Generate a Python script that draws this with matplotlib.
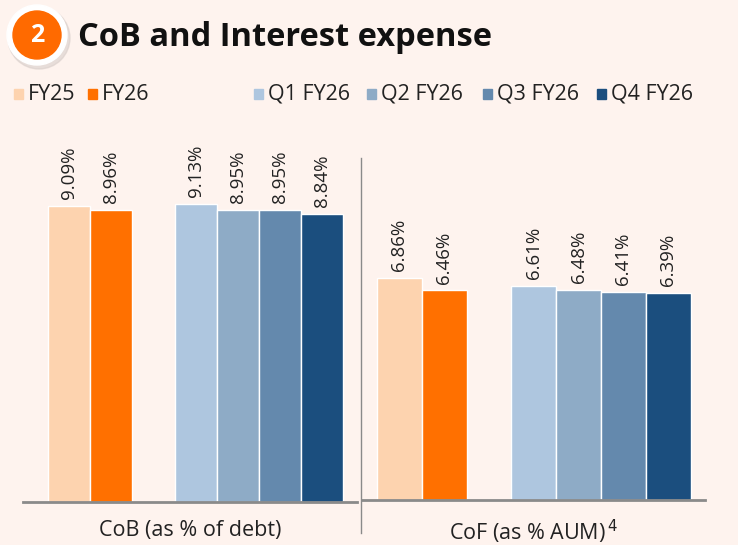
import matplotlib
matplotlib.use("Agg")
import matplotlib.pyplot as plt
from matplotlib.patches import Circle, Rectangle

plt.rcParams['font.family'] = ['Open Sans', 'DejaVu Sans']

# ---- data ----
series = ["FY25", "FY26", "Q1 FY26", "Q2 FY26", "Q3 FY26", "Q4 FY26"]
cob_values = [9.09, 8.96, 9.13, 8.95, 8.95, 8.84]
cof_values = [6.86, 6.46, 6.61, 6.48, 6.41, 6.39]
group_labels = ["CoB (as % of debt)", "CoF (as % AUM)$^{\\,4}$"]
title = "CoB and Interest expense"

colors = ["#FDD3AF", "#FF7000", "#AEC6DF", "#8EABC6", "#6489AD", "#1B4E7E"]
positions = [0, 1, 3, 4, 5, 6]
BG = "#FEF3EE"

W, H = 738, 545
fig = plt.figure(figsize=(W / 100, H / 100), dpi=100)
fig.patch.set_facecolor(BG)

def px_axes(x0, x1, ybase, ytop):
    return fig.add_axes([x0 / W, (H - ybase) / H, (x1 - x0) / W, (ybase - ytop) / H])

def draw_panel(ax, values, xlim, label):
    ax.set_facecolor("none")
    ax.bar(positions, values, width=1.0, color=colors, edgecolor="white", linewidth=1.0)
    for p, v in zip(positions, values):
        ax.annotate(f"{v:.2f}%", (p, v), xytext=(0, 5), textcoords="offset points",
                    rotation=90, ha="center", va="bottom", fontsize=13.5, color="#222222")
    ax.set_xlim(*xlim)
    ax.set_ylim(0, 11.1)
    for s in ["top", "right", "left"]:
        ax.spines[s].set_visible(False)
    ax.spines["bottom"].set_color("#8a8a8a")
    ax.spines["bottom"].set_linewidth(2)
    ax.set_yticks([])
    ax.set_xticks([])
    ax.set_xlabel(label, fontsize=15.5, color="#222222", labelpad=13)

ax1 = px_axes(23, 357, 502, 140)
draw_panel(ax1, cob_values, (-1.107, 6.845), group_labels[0])
ax2 = px_axes(362, 705, 500, 140)
draw_panel(ax2, cof_values, (-0.837, 6.82), group_labels[1])

# overlay in pixel coordinates
ov = fig.add_axes([0, 0, 1, 1])
ov.set_xlim(0, W)
ov.set_ylim(H, 0)
ov.axis("off")
ov.patch.set_alpha(0)

# separator
ov.plot([361, 361], [158, 533], color="#8a8a8a", lw=1)

# badge
ov.add_patch(Circle((39, 38), 31, color="#d9cfcb", alpha=0.6, zorder=2))
ov.add_patch(Circle((37, 35), 30, color="white", zorder=3))
ov.add_patch(Circle((37, 35), 24, color="#FF6A00", zorder=4))
ov.text(37, 36, "2", ha="center", va="center", fontsize=18, fontweight="bold", color="white", zorder=5)
ov.text(78, 37, title, ha="left", va="center", fontsize=23.5, fontweight="bold", color="#111111")

# legend
leg_x = [14, 88, 254, 367, 483, 597]
for x, c, s in zip(leg_x, colors, series):
    ov.add_patch(Rectangle((x, 89), 9, 10, color=c))
    ov.text(x + 14, 94, s, ha="left", va="center", fontsize=15.5, color="#222222")

fig.savefig("out.png", dpi=100, facecolor=BG)
